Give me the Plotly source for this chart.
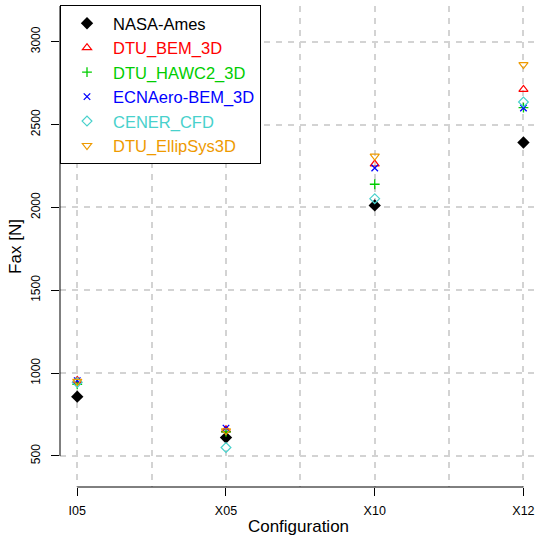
import plotly.graph_objects as go

categories = ["I05", "X05", "X10", "X12"]
nasa_ames = [858, 611, 2012, 2392]
dtu_bem_3d = [956, 658, 2262, 2712]
dtu_hawc2_3d = [932, 646, 2140, 2602]
ecnaero_bem_3d = [955, 668, 2238, 2600]
cener_cfd = [944, 551, 2053, 2636]
dtu_ellipsys3d = [950, 652, 2310, 2862]
y_ticks = [500, 1000, 1500, 2000, 2500, 3000]

xpos = [i + 1 for i in range(len(categories))]
half = [i + 1.5 for i in range(len(categories) - 1)]

series = [
    ("NASA-Ames", nasa_ames, "#000000", "diamond", 9.5, 0),
    ("DTU_BEM_3D", dtu_bem_3d, "#FF0000", "triangle-up-open", 8, 1.2),
    ("DTU_HAWC2_3D", dtu_hawc2_3d, "#00CD00", "cross-thin", 7, 1.3),
    ("ECNAero-BEM_3D", ecnaero_bem_3d, "#0000FF", "x-thin", 6.5, 1.3),
    ("CENER_CFD", cener_cfd, "#48D1CC", "diamond-open", 7.5, 1.2),
    ("DTU_EllipSys3D", dtu_ellipsys3d, "#EE9A00", "triangle-down-open", 8, 1.2),
]

fig = go.Figure()
for name, vals, col, sym, sz, lw in series:
    fig.add_trace(go.Scatter(
        x=xpos, y=vals, mode="markers",
        name=f"<span style='color:{col}'>{name}</span>",
        marker=dict(symbol=sym, size=sz, color=col,
                    line=dict(color=col, width=lw)),
    ))

font = "Liberation Sans, Arial, Helvetica, sans-serif"
grid_col = "#D3D3D3"

fig.update_layout(
    width=537, height=540,
    margin=dict(l=60, r=0, t=6, b=53),
    paper_bgcolor="white", plot_bgcolor="white",
    font=dict(family=font, size=12, color="black"),
    showlegend=True,
    legend=dict(x=0, y=1.002, xanchor="left", yanchor="top",
                bgcolor="white", bordercolor="black", borderwidth=1,
                font=dict(size=16.5, family=font), itemwidth=42,
                tracegroupgap=0),
    xaxis=dict(
        range=[0.884, 4.091], tickmode="array", tickvals=xpos,
        ticktext=categories, ticks="outside", ticklen=8, tickcolor="black",
        tickwidth=1, showline=False, zeroline=False,
        showgrid=True, gridcolor=grid_col, gridwidth=2, griddash="6px,6px",
        minor=dict(tickvals=half, showgrid=True, gridcolor=grid_col,
                   gridwidth=2, griddash="6px,6px", ticks=""),
        tickfont=dict(size=12.5), ticklabelstandoff=4,
        title=dict(text="Configuration", font=dict(size=17), standoff=3),
    ),
    yaxis=dict(
        range=[312.8, 3215.6], tickmode="array", tickvals=y_ticks,
        ticks="outside", ticklen=8, tickcolor="black", tickwidth=1,
        tickangle=-90, showline=False, zeroline=False,
        showgrid=True, gridcolor=grid_col, gridwidth=2, griddash="6px,6px",
        tickfont=dict(size=12), ticklabelstandoff=6,
        title=dict(text="Fax [N]", font=dict(size=17), standoff=3),
    ),
)

# R-style axis lines: x from first to last category, y from first tick upward
fig.add_shape(type="line", xref="x", yref="paper", x0=xpos[0], x1=xpos[-1],
              y0=0, y1=0, line=dict(color="black", width=1))
fig.add_shape(type="line", xref="paper", yref="y", x0=0, x1=0,
              y0=y_ticks[0], y1=3215.6, line=dict(color="black", width=1))

fig.write_html("out.html")
